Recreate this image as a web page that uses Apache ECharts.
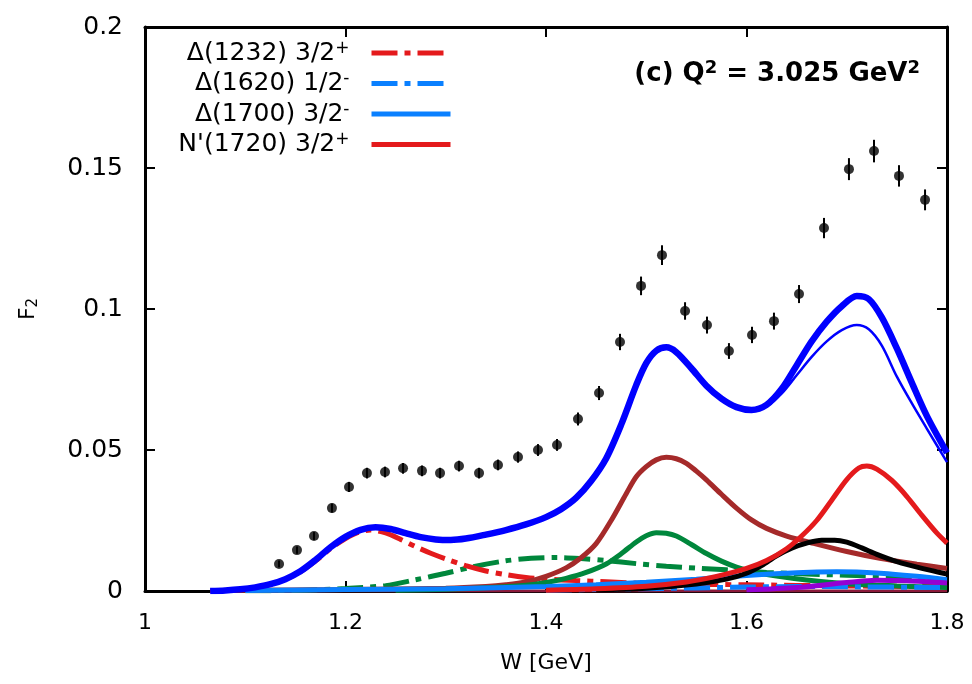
<!DOCTYPE html>
<html><head><meta charset="utf-8">
<script src="https://cdn.jsdelivr.net/npm/echarts@6/dist/echarts.min.js"></script>
<style>html,body{margin:0;padding:0;background:#fff}#c{width:972px;height:684px}</style>
</head><body><div id="c"></div>
<script>
// ---- data ----
const xTicks = [1, 1.2, 1.4, 1.6, 1.8];
const yTicks = [0, 0.05, 0.1, 0.15, 0.2];

const dataW   = [1.1337,1.1516,1.1686,1.1865,1.2035,1.2214,1.2394,1.2574,1.2763,1.2943,1.3132,1.3332,1.3521,1.3721,1.3920,1.4110,1.4319,1.4529,1.4738,1.4948,1.5157,1.5387,1.5606,1.5825,1.6055,1.6274,1.6524,1.6773,1.7022,1.7272,1.7521,1.7781];
const dataF2  = [0.0096,0.0145,0.0195,0.0294,0.0369,0.0418,0.0422,0.0435,0.0426,0.0418,0.0443,0.0418,0.0447,0.0475,0.0500,0.0518,0.0610,0.0702,0.0883,0.1082,0.1191,0.0993,0.0943,0.0851,0.0908,0.0957,0.1053,0.1287,0.1496,0.1560,0.1472,0.1387];
const dataErr = [0.0012,0.0013,0.0014,0.0016,0.0018,0.0019,0.0019,0.0019,0.0019,0.0019,0.0019,0.0019,0.0019,0.0020,0.0021,0.0021,0.0023,0.0025,0.0029,0.0033,0.0035,0.0031,0.0030,0.0028,0.0029,0.0030,0.0032,0.0036,0.0039,0.0040,0.0038,0.0037];

const totalThick = [[1.065,0],[1.08,0.0002],[1.095,0.0006],[1.11,0.0013],[1.125,0.0024],[1.14,0.0042],[1.155,0.0070],[1.17,0.0110],[1.185,0.0155],[1.20,0.0192],[1.215,0.0217],[1.23,0.0226],[1.245,0.0220],[1.26,0.0205],[1.275,0.0191],[1.29,0.0183],[1.305,0.0181],[1.32,0.0186],[1.34,0.0200],[1.36,0.0216],[1.38,0.0236],[1.40,0.0262],[1.415,0.0290],[1.43,0.0330],[1.445,0.0390],[1.46,0.0470],[1.475,0.0590],[1.49,0.0730],[1.50,0.0808],[1.51,0.0852],[1.52,0.0864],[1.53,0.0847],[1.545,0.0790],[1.56,0.0728],[1.575,0.0682],[1.59,0.0652],[1.605,0.0642],[1.62,0.0660],[1.635,0.0716],[1.65,0.0800],[1.665,0.0885],[1.68,0.0955],[1.695,0.1010],[1.71,0.1046],[1.722,0.1035],[1.735,0.0970],[1.75,0.0860],[1.765,0.0738],[1.78,0.0620],[1.80,0.0490]];
const totalThin = [[1.56,0.0728],[1.575,0.0682],[1.59,0.0652],[1.605,0.0640],[1.62,0.0655],[1.635,0.0700],[1.65,0.0765],[1.665,0.0830],[1.68,0.0885],[1.695,0.0925],[1.71,0.0943],[1.722,0.0928],[1.735,0.0870],[1.75,0.0760],[1.765,0.0665],[1.78,0.0575],[1.80,0.0457]];
const delta1232 = [[1.065,0],[1.08,0.0002],[1.095,0.0006],[1.11,0.0013],[1.125,0.0024],[1.14,0.0042],[1.155,0.0068],[1.17,0.0106],[1.185,0.0150],[1.20,0.0186],[1.212,0.0207],[1.225,0.0216],[1.24,0.0206],[1.255,0.0183],[1.27,0.0157],[1.285,0.0134],[1.30,0.0114],[1.32,0.0090],[1.34,0.0071],[1.36,0.0058],[1.38,0.0048],[1.40,0.0042],[1.43,0.0037],[1.46,0.0033],[1.49,0.0028],[1.53,0.0025],[1.6,0.0022],[1.7,0.0018],[1.8,0.0015]];
const greenDash = [[1.10,0.0001],[1.15,0.0002],[1.20,0.0009],[1.24,0.0019],[1.27,0.0040],[1.30,0.0063],[1.33,0.0088],[1.36,0.0107],[1.385,0.0116],[1.41,0.0119],[1.435,0.0115],[1.46,0.0108],[1.49,0.0097],[1.52,0.0088],[1.55,0.0081],[1.58,0.0075],[1.62,0.0066],[1.66,0.0060],[1.70,0.0056],[1.74,0.0051],[1.77,0.0045],[1.80,0.0033]];
const brown = [[1.07,0.0002],[1.2,0.0005],[1.3,0.001],[1.34,0.0016],[1.36,0.0022],[1.38,0.0032],[1.40,0.0052],[1.42,0.0082],[1.435,0.0118],[1.45,0.0168],[1.465,0.0250],[1.48,0.0345],[1.49,0.0405],[1.50,0.0441],[1.51,0.0465],[1.52,0.0474],[1.53,0.0469],[1.54,0.0453],[1.55,0.0425],[1.56,0.0394],[1.575,0.0343],[1.59,0.0294],[1.605,0.0252],[1.62,0.0222],[1.64,0.0195],[1.667,0.0169],[1.70,0.0140],[1.733,0.0116],[1.77,0.0095],[1.80,0.0080]];
const greenSolid = [[1.25,0.0003],[1.30,0.0006],[1.35,0.0013],[1.38,0.0020],[1.40,0.0030],[1.42,0.0045],[1.44,0.0066],[1.46,0.0096],[1.475,0.0132],[1.49,0.0174],[1.50,0.0196],[1.51,0.0207],[1.52,0.0205],[1.53,0.0195],[1.545,0.0165],[1.56,0.0133],[1.575,0.0106],[1.59,0.0085],[1.607,0.0068],[1.63,0.0053],[1.66,0.0039],[1.70,0.0026],[1.75,0.0018],[1.80,0.0012]];
const nprime1720 = [[1.40,0.0003],[1.45,0.0008],[1.50,0.0017],[1.54,0.0032],[1.57,0.0052],[1.60,0.0080],[1.62,0.0108],[1.64,0.0150],[1.655,0.0195],[1.67,0.0250],[1.685,0.0322],[1.70,0.0395],[1.712,0.0436],[1.72,0.0443],[1.73,0.0432],[1.745,0.0392],[1.76,0.0335],[1.775,0.0268],[1.79,0.0205],[1.80,0.0170]];
const blackSolid = [[1.45,0.0004],[1.50,0.0010],[1.55,0.0025],[1.58,0.0042],[1.60,0.0063],[1.615,0.0090],[1.63,0.0125],[1.645,0.0152],[1.66,0.0170],[1.675,0.0180],[1.688,0.0180],[1.70,0.0173],[1.715,0.0153],[1.73,0.0130],[1.75,0.0104],[1.775,0.0080],[1.80,0.0060]];
const delta1700 = [[1.10,0.0002],[1.2,0.0005],[1.3,0.0008],[1.4,0.0016],[1.45,0.0022],[1.5,0.0031],[1.55,0.0042],[1.60,0.0055],[1.65,0.0065],[1.69,0.0068],[1.73,0.0064],[1.77,0.0052],[1.80,0.0040]];
const delta1620 = [[1.40,0.0003],[1.50,0.0008],[1.60,0.0014],[1.65,0.0016],[1.70,0.0015],[1.80,0.0012]];
const purple = [[1.60,0.0004],[1.65,0.0012],[1.70,0.0030],[1.73,0.0038],[1.76,0.0036],[1.80,0.0028]];
const nearZero = [[1.07,0],[1.8,0]];

const legendNames = ['Δ(1232) 3/2+', 'Δ(1620) 1/2-', 'Δ(1700) 3/2-', "N'(1720) 3/2+"];
const legendRich = {
  'Δ(1232) 3/2+': '{m|Δ(1232) 3/2}{s|+}',
  'Δ(1620) 1/2-': '{m|Δ(1620) 1/2}{s|-}',
  'Δ(1700) 3/2-': '{m|Δ(1700) 3/2}{s|-}',
  "N'(1720) 3/2+": "{m|N'(1720) 3/2}{s|+}"
};

// ---- chart ----
const FONT = 'DejaVu Sans';
const DASHDOT = [26, 7, 6, 7];
function line(name, data, color, width, dash, z) {
  return {
    type: 'line', name: name, data: data, showSymbol: false, symbol: 'none',
    smooth: 0.3, z: z, silent: true,
    lineStyle: { color: color, width: width, type: dash || 'solid', cap: 'butt' },
    itemStyle: { color: color }
  };
}
const axisCommon = {
  type: 'value', splitLine: { show: false },
  axisLine: { show: true, onZero: false, lineStyle: { color: '#000', width: 3 } },
  axisTick: { show: true, inside: true, length: 10, lineStyle: { color: '#000', width: 2 } }
};
const chart = echarts.init(document.getElementById('c'), null, { renderer: 'canvas' });
chart.setOption({
  animation: false,
  backgroundColor: '#fff',
  grid: { left: 145, right: 25, top: 27, bottom: 93, containLabel: false },
  xAxis: [
    Object.assign({}, axisCommon, {
      position: 'bottom', min: xTicks[0], max: xTicks[xTicks.length - 1], interval: 0.2,
      name: 'W [GeV]', nameLocation: 'middle', nameGap: 61,
      nameTextStyle: { fontFamily: FONT, fontSize: 22, color: '#000' },
      axisLabel: { show: true, margin: 21, fontFamily: FONT, fontSize: 22, color: '#000' }
    }),
    Object.assign({}, axisCommon, {
      position: 'top', min: xTicks[0], max: xTicks[xTicks.length - 1], interval: 0.2,
      axisLabel: { show: false }
    })
  ],
  yAxis: [
    Object.assign({}, axisCommon, {
      position: 'left', min: yTicks[0], max: yTicks[yTicks.length - 1], interval: 0.05,
      name: '{a|F}{b|2}', nameLocation: 'middle', nameGap: 104, nameRotate: 90,
      nameTextStyle: { color: '#000', rich: {
        a: { fontFamily: FONT, fontSize: 22, lineHeight: 26, color: '#000' },
        b: { fontFamily: FONT, fontSize: 15, lineHeight: 15, verticalAlign: 'bottom', color: '#000' } } },
      axisLabel: { show: true, margin: 22, fontFamily: FONT, fontSize: 25, color: '#000' }
    }),
    Object.assign({}, axisCommon, {
      position: 'right', min: yTicks[0], max: yTicks[yTicks.length - 1], interval: 0.05,
      axisLabel: { show: false }
    })
  ],
  legend: {
    data: legendNames, orient: 'vertical', align: 'right',
    right: 519, top: 40, padding: 0, itemGap: 5, itemWidth: 79, itemHeight: 14,
    selectedMode: false,
    itemStyle: { opacity: 0 },
    lineStyle: { width: 5 },
    formatter: function (n) { return legendRich[n]; },
    textStyle: { padding: [0, 17, 0, 0], color: '#000', rich: {
      m: { fontFamily: FONT, fontSize: 25, lineHeight: 26, color: '#000' },
      s: { fontFamily: FONT, fontSize: 17, lineHeight: 16, verticalAlign: 'top', color: '#000' } } }
  },
  graphic: [{
    type: 'text', right: 52, top: 59, z: 100,
    style: {
      text: '{b|(c) Q}{s|2}{b| = 3.025 GeV}{s|2}',
      rich: {
        b: { fontFamily: FONT, fontSize: 26, fontWeight: 'bold', lineHeight: 30, fill: '#000' },
        s: { fontFamily: FONT, fontSize: 18, fontWeight: 'bold', lineHeight: 17, verticalAlign: 'top', fill: '#000' }
      }
    }
  }],
  series: [
    line('near-zero', nearZero, '#8b1a3a', 3, 'solid', 1),
    line('green dash-dot', greenDash, '#00873c', 5, DASHDOT, 2),
    line('Δ(1232) 3/2+', delta1232, '#e41a1c', 5, DASHDOT, 3),
    line('brown', brown, '#a52a2a', 5, 'solid', 4),
    line('green solid', greenSolid, '#00873c', 5, 'solid', 5),
    line('Δ(1620) 1/2-', delta1620, '#0a80ff', 5, DASHDOT, 6),
    line('Δ(1700) 3/2-', delta1700, '#0a80ff', 5, 'solid', 6),
    line('purple', purple, '#9400d3', 5, 'solid', 6),
    line('black', blackSolid, '#000000', 5, 'solid', 7),
    line("N'(1720) 3/2+", nprime1720, '#e41a1c', 5, 'solid', 8),
    line('total thin', totalThin, '#0000ff', 2.5, 'solid', 9),
    line('total', totalThick, '#0000ff', 6.5, 'solid', 10),
    {
      type: 'custom', name: 'errors', z: 11, silent: true,
      data: dataW.map(function (w, i) { return [w, dataF2[i] - dataErr[i], dataF2[i] + dataErr[i]]; }),
      renderItem: function (params, api) {
        const lo = api.coord([api.value(0), api.value(1)]);
        const hi = api.coord([api.value(0), api.value(2)]);
        return { type: 'line', shape: { x1: lo[0], y1: lo[1], x2: hi[0], y2: hi[1] },
                 style: { stroke: '#000', lineWidth: 2 } };
      }
    },
    {
      type: 'scatter', name: 'data', z: 12, silent: true, symbol: 'circle', symbolSize: 10,
      itemStyle: { color: '#000' },
      data: dataW.map(function (w, i) { return [w, dataF2[i]]; })
    }
  ]
});
</script></body></html>
